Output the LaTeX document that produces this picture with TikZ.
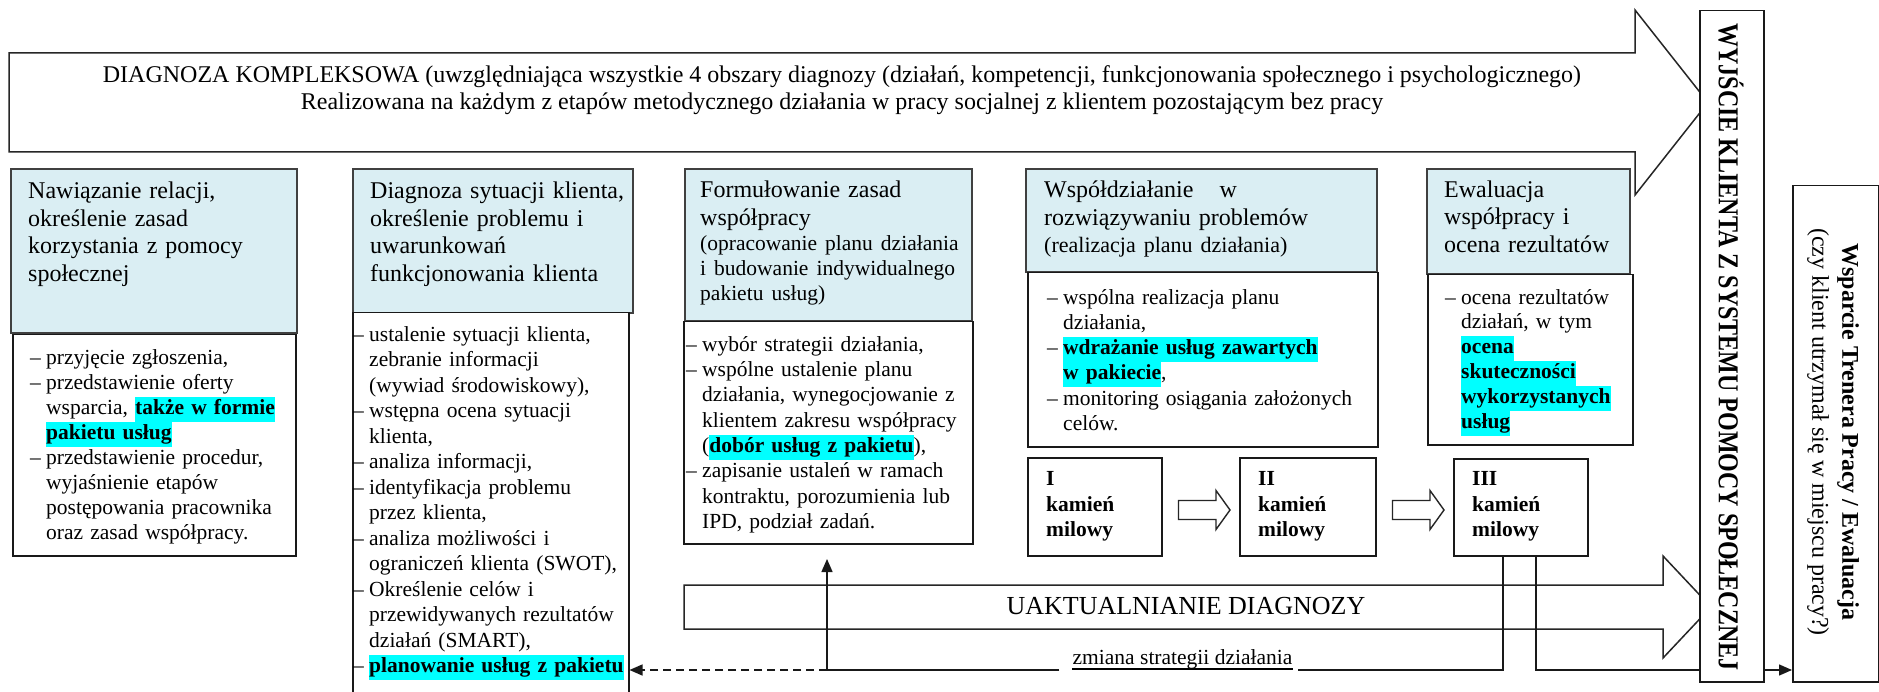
\documentclass[tikz,border=0pt]{standalone}
\usepackage{fontspec}
\setmainfont{Liberation Serif}
\usetikzlibrary{arrows.meta,calc}
\pgfdeclarelayer{background}
\pgfsetlayers{background,main}
\definecolor{hdr}{RGB}{218,238,243}
\definecolor{hlc}{RGB}{0,255,255}
\newcommand\dsh{\makebox[16pt][l]{–}}
\newcommand\indd{\hspace*{16pt}}
\newcommand\hlt[1]{{\setlength{\fboxsep}{0pt}\colorbox{hlc}{\strut\textbf{#1}}}}
% header block arrow: from node, tip coordinate, shaft half, head half, notch length
\newcommand\hdrarrow[5]{%
  \path[harrow] let \p1=(#1.east), \p2=(#2) in
   (\x1,\y2+#3pt) -- (\x1+#5pt,\y2+#3pt) -- (\x1+#5pt,\y2+#4pt) -- (\x2,\y2)
   -- (\x1+#5pt,\y2-#4pt) -- (\x1+#5pt,\y2-#3pt) -- (\x1,\y2-#3pt);}
% milestone block arrow between two nodes
\newcommand\msarrow[2]{%
  \draw[marrow] let \p1=(#1.east), \p2=(#2.west), \p3=(0,510) in
   (\x1+16pt,\y3+9.5pt) -- (\x2-23pt,\y3+9.5pt) -- (\x2-23pt,\y3+19.5pt) -- (\x2-9pt,\y3)
   -- (\x2-23pt,\y3-19.5pt) -- (\x2-23pt,\y3-9.5pt) -- (\x1+16pt,\y3-9.5pt) -- cycle;}
\begin{document}
\begin{tikzpicture}[x=1pt,y=-1pt,line join=miter,
  barrow/.style={draw=black!85,line width=1.5pt,fill=white},
  harrow/.style={draw=black!80,line width=1.6pt,fill=hdr},
  marrow/.style={draw=black!85,line width=1.4pt,fill=white},
  hbox/.style={draw=black!75,line width=2pt,fill=hdr,anchor=north west,inner sep=0pt},
  bbox/.style={draw=black!90,line width=1.5pt,fill=white,anchor=north west,inner sep=0pt},
  htext/.style={anchor=north west,inner sep=0pt,align=left,font=\fontsize{24}{27.5}\selectfont},
  btext/.style={anchor=north west,inner sep=0pt,align=left},
  conn/.style={draw=black!90,line width=1.4pt},
  arr/.style={-{Triangle[length=13pt,width=11pt]}}]
\useasboundingbox[fill=white] (0,0) rectangle (1879,692);

% top arrow
\draw[barrow] (9,53) -- (1635,53) -- (1635,10) -- (1708,102.5) -- (1635,195) -- (1635,152) -- (9,152) -- cycle;
\node[align=center,inner sep=0pt,font=\fontsize{24}{27}\selectfont] (dg) at (842,90.5)
  {DIAGNOZA KOMPLEKSOWA (uwzględniająca wszystkie 4 obszary diagnozy (działań, kompetencji, funkcjonowania społecznego i psychologicznego)\\
   Realizowana na każdym z etapów metodycznego działania w pracy socjalnej z klientem pozostającym bez pracy};

% updating arrow
\draw[barrow] (684,585) -- (1663,585) -- (1663,556) -- (1711,607) -- (1663,658) -- (1663,629) -- (684,629) -- cycle;
\node[inner sep=0pt,font=\fontsize{26}{30}\selectfont] (ua) at (1186,606) {UAKTUALNIANIE DIAGNOZY};

% header boxes
\node[hbox,minimum width=286pt,minimum height=164pt] (h1) at (10,168) {};
\node[hbox,minimum width=280pt,minimum height=144pt] (h2) at (352,168) {};
\node[hbox,minimum width=287pt,minimum height=152pt] (h3) at (684,168) {};
\node[hbox,minimum width=351pt,minimum height=103pt] (h4) at (1025,168) {};
\node[hbox,minimum width=203pt,minimum height=105pt] (h5) at (1426,168) {};
\coordinate (t5tip) at (1667,221);
\begin{pgfonlayer}{background}
\hdrarrow{h1}{h2.west |- 0,249.5}{20.5}{40.5}{11}
\hdrarrow{h2}{h3.west |- 0,240}{18}{42}{11}
\hdrarrow{h3}{h4.west |- 0,245}{21}{40.5}{13}
\hdrarrow{h4}{h5.west |- 0,221}{14}{26}{9}
\hdrarrow{h5}{t5tip}{14}{26}{8}
\end{pgfonlayer}

\node[htext,text width=262pt] (t1) at (28,179.5) {\strut Nawiązanie relacji,\\określenie zasad\\korzystania z pomocy\\społecznej};
\node[htext,text width=256pt] (t2) at (370,179.5) {\strut Diagnoza sytuacji klienta,\\określenie problemu i\\uwarunkowań\\funkcjonowania klienta};
\node[htext,text width=268pt] (t3) at (700,178.5) {\strut Formułowanie zasad\\współpracy\par
  {\fontsize{21.5}{25}\selectfont (opracowanie planu działania\\i budowanie indywidualnego\\pakietu usług)\par}};
\node[htext,text width=328pt] (t4) at (1044,178.5) {\strut Współdziałanie\hspace{26pt}w\\rozwiązywaniu problemów\\{\fontsize{22}{27.5}\selectfont (realizacja planu działania)}};
\node[htext,text width=182pt] (t5) at (1444,178) {\strut Ewaluacja\\współpracy i\\ocena rezultatów};

% body boxes
\node[bbox,minimum width=283pt,minimum height=221pt] (b1) at (12,334) {};
\node[bbox,minimum width=276pt,minimum height=420pt] (b2) at (352,312) {};
\node[bbox,minimum width=289pt,minimum height=222pt] (b3) at (683,321) {};
\node[bbox,minimum width=350pt,minimum height=174pt] (b4) at (1027,272) {};
\node[bbox,minimum width=205pt,minimum height=170pt] (b5) at (1427,274) {};

\node[btext,text width=262pt,font=\fontsize{21.5}{25}\selectfont] (u1) at (30,346.5)
 {\strut\dsh przyjęcie zgłoszenia,\\\dsh przedstawienie oferty\\\indd wsparcia, \hlt{także w formie}\\\indd\hlt{pakietu usług}\\\dsh przedstawienie procedur,\\\indd wyjaśnienie etapów\\\indd postępowania pracownika\\\indd oraz zasad współpracy.};
\node[btext,text width=274pt,font=\fontsize{21.5}{25.5}\selectfont] (u2) at (353,323.3)
 {\strut\dsh ustalenie sytuacji klienta,\\\indd zebranie informacji\\\indd (wywiad środowiskowy),\\\dsh wstępna ocena sytuacji\\\indd klienta,\\\dsh analiza informacji,\\\dsh identyfikacja problemu\\\indd przez klienta,\\\dsh analiza możliwości i\\\indd ograniczeń klienta (SWOT),\\\dsh Określenie celów i\\\indd przewidywanych rezultatów\\\indd działań (SMART),\\\dsh\hlt{planowanie usług z pakietu}};
\node[btext,text width=284pt,font=\fontsize{21.5}{25.3}\selectfont] (u3) at (686,333.3)
 {\strut\dsh wybór strategii działania,\\\dsh wspólne ustalenie planu\\\indd działania, wynegocjowanie z\\\indd klientem zakresu współpracy\\\indd (\hlt{dobór usług z pakietu}),\\\dsh zapisanie ustaleń w ramach\\\indd kontraktu, porozumienia lub\\\indd IPD, podział zadań.};
\node[btext,text width=326pt,font=\fontsize{21.5}{25.2}\selectfont] (u4) at (1047,286.4)
 {\strut\dsh wspólna realizacja planu\\\indd działania,\\\dsh\hlt{wdrażanie usług zawartych}\\\indd\hlt{w pakiecie},\\\dsh monitoring osiągania założonych\\\indd celów.};
\node[btext,text width=184pt,font=\fontsize{21.5}{24.8}\selectfont] (u5) at (1445,286.6)
 {\strut\dsh ocena rezultatów\\\indd działań, w tym\\\indd\hlt{ocena}\\\indd\hlt{skuteczności}\\\indd\hlt{wykorzystanych}\\\indd\hlt{usług}};

% milestones
\node[bbox,minimum width=134pt,minimum height=98pt] (m1) at (1027,457) {};
\node[bbox,minimum width=136pt,minimum height=98pt] (m2) at (1239,457) {};
\node[bbox,minimum width=134pt,minimum height=97pt] (m3) at (1453,458) {};
\node[btext,text width=110pt,font=\bfseries\fontsize{21.5}{25.5}\selectfont] (m1t) at (1046,467.6) {\strut I\\kamień\\milowy};
\node[btext,text width=110pt,font=\bfseries\fontsize{21.5}{25.5}\selectfont] (m2t) at (1258,467.6) {\strut II\\kamień\\milowy};
\node[btext,text width=110pt,font=\bfseries\fontsize{21.5}{25.5}\selectfont] (m3t) at (1472,467.6) {\strut III\\kamień\\milowy};
\msarrow{m1}{m2}
\msarrow{m2}{m3}

% connectors
\coordinate (j) at (827,670);
\coordinate (uptip) at (827,559);
\node[inner sep=0pt,anchor=base,font=\fontsize{21.5}{25}\selectfont] (zm) at (1182.5,664.5) {zmiana strategii działania};
\draw[line width=1.2pt] ([yshift=-4.5pt]zm.base west) -- ([yshift=-4.5pt]zm.base east);
\coordinate (zr) at (zm.east |- j);
\coordinate (zl) at (zm.west |- j);
\draw[conn] ([xshift=50pt]m3.south west) |- ([xshift=5pt]zr);
\draw[conn] ([xshift=-13pt]zl) -- (j);
\draw[conn,arr] (j) -- (uptip);
\draw[conn,arr,dash pattern=on 8pt off 5pt] (j) -- (b2.east |- j);

% exit boxes
\node[bbox,minimum width=86pt,minimum height=496pt] (ws) at (1792,185) {};
\draw[conn,arr] ([xshift=83pt]m3.south west) |- (ws.west |- j);
\node[bbox,minimum width=64pt,minimum height=671pt] (wy) at (1699,10) {};
\node[rotate=-90,inner sep=0pt,font=\bfseries\fontsize{24}{28}\selectfont] (wyt) at (1731,347)
  {\scalebox{1}[1.2]{WYJŚCIE KLIENTA Z SYSTEMU POMOCY SPOŁECZNEJ}};
\node[rotate=-90,align=center,inner sep=0pt,font=\fontsize{24}{30}\selectfont] (wst) at (1833,432)
  {\textbf{Wsparcie Trenera Pracy / Ewaluacja}\\(czy klient utrzymał się w miejscu pracy?)};
\end{tikzpicture}
\end{document}
